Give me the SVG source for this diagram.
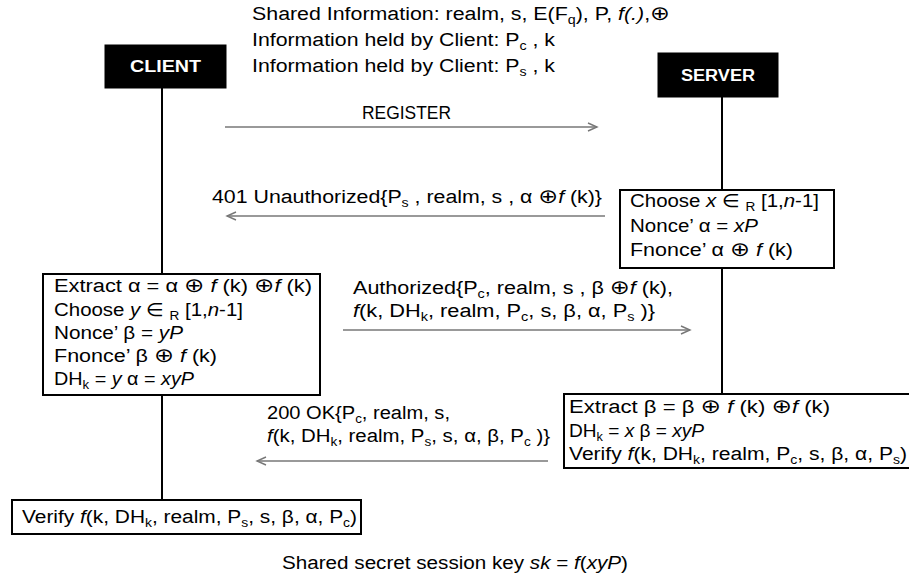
<svg xmlns="http://www.w3.org/2000/svg" width="909" height="577" viewBox="0 0 909 577">
<defs>
<style>
text{font-family:"Liberation Sans","DejaVu Sans",sans-serif;fill:#000;font-size:18px;}
.sub{font-size:12px;}
.it{font-style:italic;}
.op{font-family:"DejaVu Sans",sans-serif;font-size:20px;}
.actor{fill:#000;stroke:#000;stroke-width:1;}
.actortext{fill:#fff;font-size:16px;font-weight:bold;}
.box{fill:#fff;stroke:#000;stroke-width:2;}
.life{stroke:#000;stroke-width:2;fill:none;}
.msg{stroke:#777;stroke-width:1.4;fill:none;}
</style>
<marker id="ah" markerWidth="12" markerHeight="12" refX="10" refY="5" orient="auto" markerUnits="userSpaceOnUse">
<path d="M1,1 L10,5 L1,9" fill="none" stroke="#777" stroke-width="1.4"/>
</marker>
</defs>
<rect x="0" y="0" width="909" height="577" fill="#fff"/>

<g id="header">
<text x="252" y="20" textLength="418" lengthAdjust="spacingAndGlyphs">Shared Information: realm, s, E(F<tspan class="sub" dy="4">q</tspan><tspan dy="-4">), P, </tspan><tspan class="it">f(.)</tspan>,<tspan class="op">⊕</tspan></text>
<text x="252" y="46" textLength="303" lengthAdjust="spacingAndGlyphs">Information held by Client: P<tspan class="sub" dy="4">c</tspan><tspan dy="-4"> , k</tspan></text>
<text x="252" y="72" textLength="303" lengthAdjust="spacingAndGlyphs">Information held by Client: P<tspan class="sub" dy="4">s</tspan><tspan dy="-4"> , k</tspan></text>
</g>

<g id="connectors">
<line class="life" x1="162" y1="88" x2="162" y2="274"/>
<line class="life" x1="162" y1="395" x2="162" y2="500"/>
<line class="life" x1="722" y1="97" x2="722" y2="190"/>
<line class="life" x1="722" y1="268" x2="722" y2="394"/>
<line class="msg" x1="225" y1="127" x2="597" y2="127" marker-end="url(#ah)"/>
<line class="msg" x1="605" y1="216" x2="227" y2="216" marker-end="url(#ah)"/>
<line class="msg" x1="343" y1="330" x2="690" y2="330" marker-end="url(#ah)"/>
<line class="msg" x1="548" y1="461" x2="257" y2="461" marker-end="url(#ah)"/>
<text x="362" y="119" textLength="89" lengthAdjust="spacingAndGlyphs">REGISTER</text>
<text x="212" y="203" textLength="390" lengthAdjust="spacingAndGlyphs">401 Unauthorized{P<tspan class="sub" dy="4">s</tspan><tspan dy="-4"> , realm, s , α </tspan><tspan class="op">⊕</tspan><tspan class="it">f</tspan> (k)}</text>
<text x="353" y="294" textLength="320" lengthAdjust="spacingAndGlyphs">Authorized{P<tspan class="sub" dy="4">c</tspan><tspan dy="-4">, realm, s , β </tspan><tspan class="op">⊕</tspan><tspan class="it">f</tspan> (k),</text>
<text x="353" y="317" textLength="302" lengthAdjust="spacingAndGlyphs"><tspan class="it">f</tspan>(k, DH<tspan class="sub" dy="4">k</tspan><tspan dy="-4">, realm, P</tspan><tspan class="sub" dy="4">c</tspan><tspan dy="-4">, s, β, α, P</tspan><tspan class="sub" dy="4">s</tspan><tspan dy="-4">  )}</tspan></text>
<text x="267" y="419" textLength="183" lengthAdjust="spacingAndGlyphs">200 OK{P<tspan class="sub" dy="4">c</tspan><tspan dy="-4">, realm, s,</tspan></text>
<text x="267" y="442" textLength="283" lengthAdjust="spacingAndGlyphs"><tspan class="it">f</tspan>(k, DH<tspan class="sub" dy="4">k</tspan><tspan dy="-4">, realm, P</tspan><tspan class="sub" dy="4">s</tspan><tspan dy="-4">, s, α, β, P</tspan><tspan class="sub" dy="4">c</tspan><tspan dy="-4"> )}</tspan></text>
</g>

<g id="client">
<rect class="actor" x="105" y="45" width="121" height="43"/>
<text class="actortext" x="130" y="72" textLength="71" lengthAdjust="spacingAndGlyphs">CLIENT</text>
</g>

<g id="server">
<rect class="actor" x="658" y="53" width="120" height="44"/>
<text class="actortext" x="681" y="81" textLength="74" lengthAdjust="spacingAndGlyphs">SERVER</text>
</g>

<g id="server-step1">
<rect class="box" x="620" y="190" width="214" height="78"/>
<text x="630" y="207" textLength="189" lengthAdjust="spacingAndGlyphs">Choose <tspan class="it">x</tspan> ∈ <tspan class="sub" dy="4">R</tspan><tspan dy="-4"> [1,</tspan><tspan class="it">n</tspan>-1]</text>
<text x="630" y="232" textLength="128" lengthAdjust="spacingAndGlyphs">Nonce’ α = <tspan class="it">xP</tspan></text>
<text x="630" y="256" textLength="163" lengthAdjust="spacingAndGlyphs">Fnonce’ α <tspan class="op">⊕</tspan> <tspan class="it">f</tspan> (k)</text>
</g>

<g id="client-step1">
<rect class="box" x="43" y="274" width="277" height="121"/>
<text x="54" y="292" textLength="258" lengthAdjust="spacingAndGlyphs">Extract α = α <tspan class="op">⊕</tspan> <tspan class="it">f</tspan> (k) <tspan class="op">⊕</tspan><tspan class="it">f</tspan> (k)</text>
<text x="54" y="316" textLength="189" lengthAdjust="spacingAndGlyphs">Choose <tspan class="it">y</tspan> ∈ <tspan class="sub" dy="4">R</tspan><tspan dy="-4"> [1,</tspan><tspan class="it">n</tspan>-1]</text>
<text x="54" y="339" textLength="129" lengthAdjust="spacingAndGlyphs">Nonce’ β = <tspan class="it">yP</tspan></text>
<text x="54" y="362" textLength="163" lengthAdjust="spacingAndGlyphs">Fnonce’ β <tspan class="op">⊕</tspan> <tspan class="it">f</tspan> (k)</text>
<text x="54" y="385" textLength="140" lengthAdjust="spacingAndGlyphs">DH<tspan class="sub" dy="4">k</tspan><tspan dy="-4"> = </tspan><tspan class="it">y</tspan> α = <tspan class="it">xyP</tspan></text>
</g>

<g id="server-step2">
<rect class="box" x="564" y="394" width="360" height="74"/>
<text x="569" y="413" textLength="261" lengthAdjust="spacingAndGlyphs">Extract β = β <tspan class="op">⊕</tspan> <tspan class="it">f</tspan> (k) <tspan class="op">⊕</tspan><tspan class="it">f</tspan> (k)</text>
<text x="569" y="437" textLength="135" lengthAdjust="spacingAndGlyphs">DH<tspan class="sub" dy="4">k</tspan><tspan dy="-4"> = </tspan><tspan class="it">x</tspan> β = <tspan class="it">xyP</tspan></text>
<text x="569" y="460" textLength="338" lengthAdjust="spacingAndGlyphs">Verify <tspan class="it">f</tspan>(k, DH<tspan class="sub" dy="4">k</tspan><tspan dy="-4">, realm, P</tspan><tspan class="sub" dy="4">c</tspan><tspan dy="-4">, s, β, α, P</tspan><tspan class="sub" dy="4">s</tspan><tspan dy="-4">)</tspan></text>
</g>

<g id="client-step2">
<rect class="box" x="12" y="500" width="349" height="34"/>
<text x="22" y="523" textLength="335" lengthAdjust="spacingAndGlyphs">Verify <tspan class="it">f</tspan>(k, DH<tspan class="sub" dy="4">k</tspan><tspan dy="-4">, realm, P</tspan><tspan class="sub" dy="4">s</tspan><tspan dy="-4">, s, β, α, P</tspan><tspan class="sub" dy="4">c</tspan><tspan dy="-4">)</tspan></text>
</g>

<g id="footer">
<text x="282" y="569" textLength="346" lengthAdjust="spacingAndGlyphs">Shared secret session key <tspan class="it">sk</tspan> = <tspan class="it">f</tspan>(<tspan class="it">xyP</tspan>)</text>
</g>
</svg>
